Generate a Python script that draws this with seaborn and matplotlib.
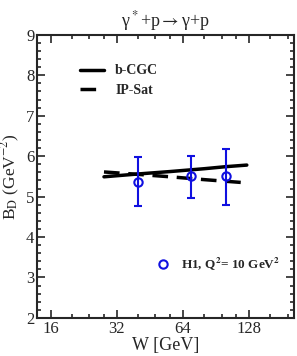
import matplotlib
matplotlib.use("Agg")
import matplotlib.pyplot as plt
import seaborn as sns
import pandas as pd
from matplotlib.lines import Line2D
from matplotlib.ticker import FixedLocator, MultipleLocator, NullFormatter

# model curves
w_model = [28, 40, 56, 80, 100, 125]
bcgc = [5.49, 5.56, 5.62, 5.69, 5.74, 5.78]
ipsat = [5.61, 5.55, 5.49, 5.42, 5.38, 5.34]

# H1 data, Q^2 = 10 GeV^2
w_h1 = [40, 70, 100]
b_h1 = [5.37, 5.51, 5.51]
err_lo = [0.60, 0.55, 0.72]
err_hi = [0.60, 0.50, 0.67]

sns.set_style("ticks")
plt.rcParams["font.family"] = ["Liberation Serif", "DejaVu Serif"]
plt.rcParams["mathtext.fontset"] = "stix"

fig = plt.figure(figsize=(2.97, 3.56), dpi=100)
ax = fig.add_axes([0.125, 0.107, 0.865, 0.795])

models = pd.DataFrame({"W": w_model * 2,
                       "B": bcgc + ipsat,
                       "model": ["b-CGC"] * len(w_model) + ["IP-Sat"] * len(w_model)})
sns.lineplot(data=models[models.model == "b-CGC"], x="W", y="B", color="black",
             lw=2.5, ax=ax, label="b-CGC")
sns.lineplot(data=models[models.model == "IP-Sat"], x="W", y="B", color="black",
             lw=2.5, ls=(0, (4.5, 2.5)), ax=ax, label="IP-Sat")

blue = "#1010e0"
ax.errorbar(w_h1, b_h1, yerr=[err_lo, err_hi], fmt="o", mfc="none", mec=blue,
            ecolor=blue, mew=1.5, ms=6, elinewidth=1.5, capsize=3, capthick=1.5, zorder=3)

ax.set_xscale("log", base=2)
ax.set_xlim(13.9, 205)
ax.set_ylim(2, 9)
ax.xaxis.set_major_locator(FixedLocator([16, 32, 64, 128]))
ax.set_xticklabels(["16", "32", "64", "128"])
ax.xaxis.set_minor_locator(FixedLocator([20, 24, 28, 40, 48, 56, 80, 96, 112, 160, 192]))
ax.xaxis.set_minor_formatter(NullFormatter())
ax.yaxis.set_major_locator(MultipleLocator(1))
ax.yaxis.set_minor_locator(MultipleLocator(0.2))

ax.tick_params(which="both", direction="in", top=True, right=True, labelsize=12, width=1.2)
ax.tick_params(which="major", length=6, pad=2)
ax.tick_params(which="minor", length=3)
for s in ax.spines.values():
    s.set_linewidth(1.5)

ax.set_xlabel("W [GeV]", fontsize=13, labelpad=0)
ax.set_ylabel(r"B$_\mathrm{D}$ (GeV$^{-2}$)", fontsize=12.5)
ax.yaxis.set_label_coords(-0.06, 0.5)
ax.set_title(r"γ$^*$+p$\rightarrow$γ+p", fontsize=13, pad=6)

leg1 = ax.legend(loc="upper left", bbox_to_anchor=(0.12, 0.94), frameon=False,
                 handlelength=1.7, prop={"weight": "bold", "size": 10},
                 labelspacing=0.5)
ax.add_artist(leg1)
h1_handle = Line2D([], [], ls="none", marker="o", mfc="none", mec=blue, mew=1.5, ms=6)
ax.legend([h1_handle], [r"H1, Q$^\mathbf{2}$= 10 GeV$^\mathbf{2}$"], loc="lower left",
          bbox_to_anchor=(0.42, 0.12), frameon=False, handlelength=1.0,
          prop={"weight": "bold", "size": 9.5}, numpoints=1)

fig.savefig("out.png", dpi=100)
